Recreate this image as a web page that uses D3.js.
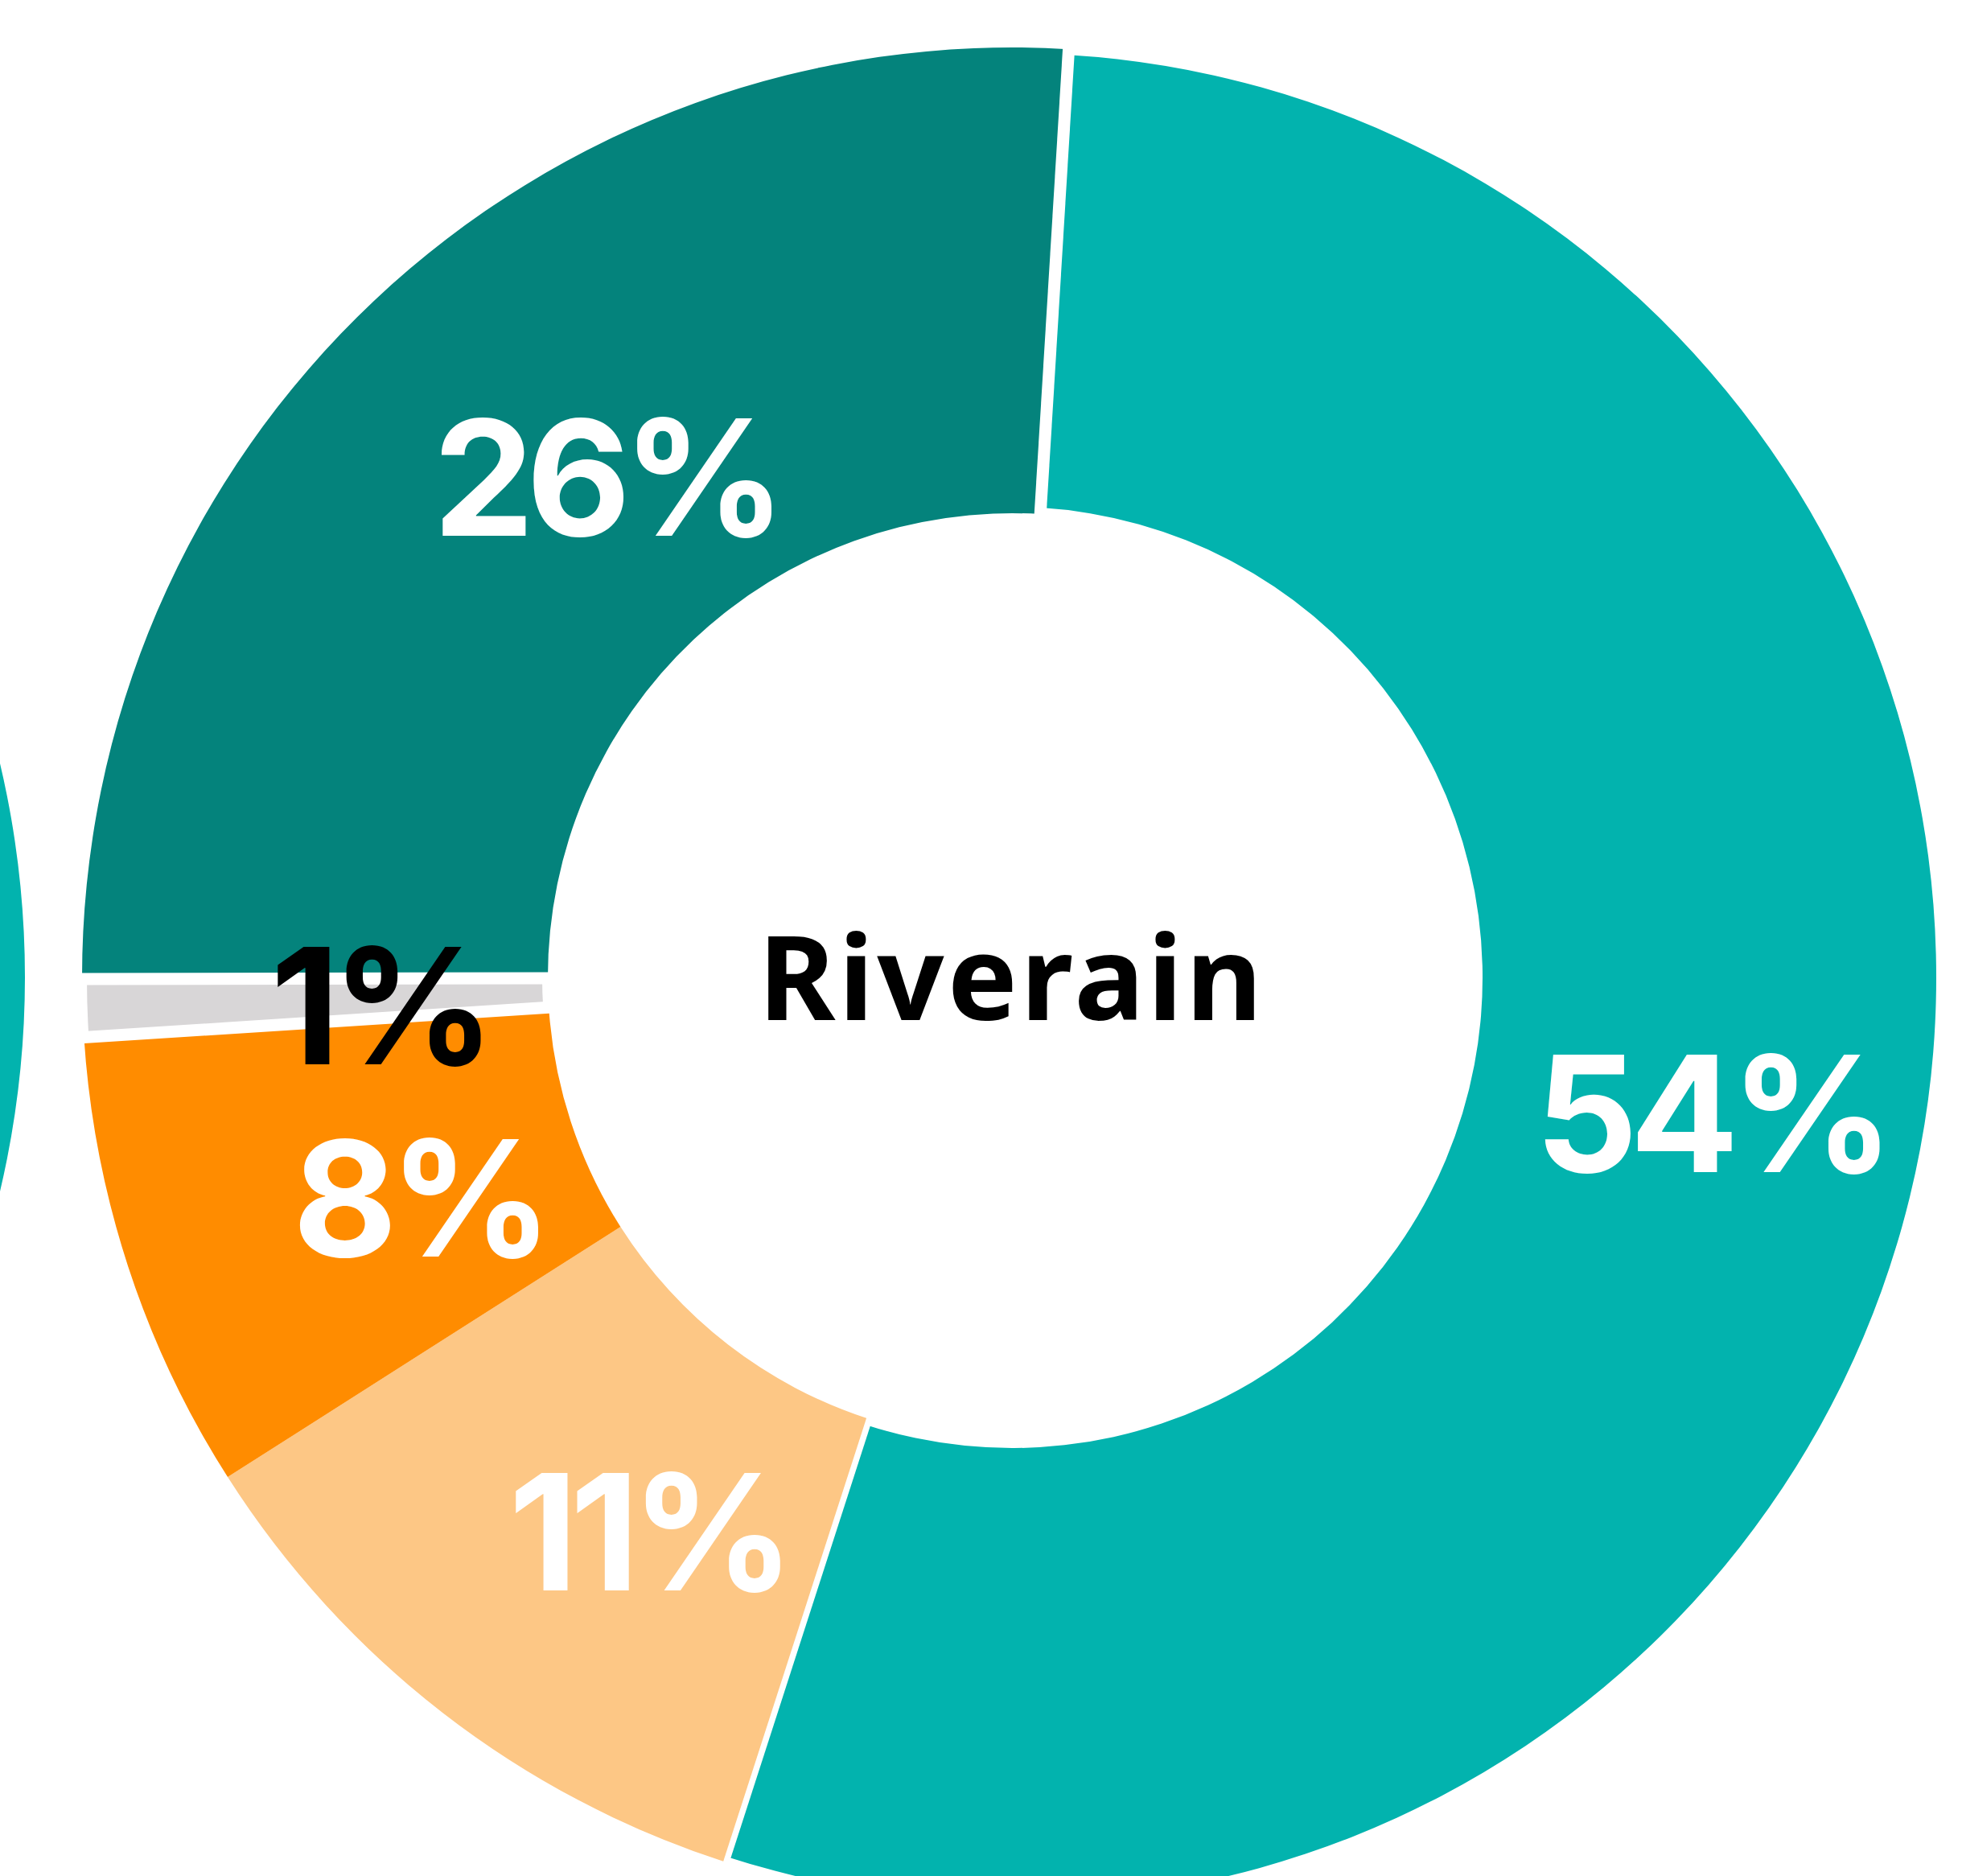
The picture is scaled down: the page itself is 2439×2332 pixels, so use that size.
<!DOCTYPE html>
<html lang="en">
<head>
    <meta charset="UTF-8">
    <title>Riverain</title>
    <script src="https://cdnjs.cloudflare.com/ajax/libs/d3/7.8.5/d3.min.js"></script>
    <style>
        body {
            margin: 0;
            background: white;
            overflow: hidden;
        }
        svg {
            display: block;
        }
        .pct {
            font-family: Inter, sans-serif;
            font-weight: 700;
            font-size: 200px;
            letter-spacing: -10px;
            text-anchor: middle;
        }
        .title {
            font-family: "Noto Sans", Tahoma, sans-serif;
            font-weight: 700;
            font-size: 146px;
            letter-spacing: 4px;
            text-anchor: middle;
        }
    </style>
</head>
<body>
    <svg id="chart"></svg>

    <script>
        // data, clockwise from the top
        const segments = ["s1", "s2", "s3", "s4", "s5"];
        const shares = [54, 11, 8, 1, 26];
        const segmentColors = ["#02b3ae", "#fdc785", "#ff8c00", "#d8d6d7", "#04837c"];
        const labelColors = ["#fff", "#fff", "#fff", "#000", "#fff"];
        const centerLabel = "Riverain";

        // look
        const width = 2439, height = 2332;
        const cx = 1258, cy = 1215;
        const outerR = 1156, innerR = 577;
        const startDeg = 3.5;
        // white gap after each slice (px), and slices drawn with a thinner ring
        const gapAfter = [7.5, 0, 15, 15, 15];
        const ringInset = [[8, 7], [0, 0], [0, 0], [7, 6], [0, 0]];
        // hand nudges so labels sit where the original put them
        const labelNudge = [[22, 9], [82, 4], [91, 6], [84, 7], [94, 10]];

        const svg = d3.select("#chart")
            .attr("width", width)
            .attr("height", height);

        svg.append("rect")
            .attr("width", width)
            .attr("height", height)
            .attr("fill", "white");

        // right edge of the neighbouring ring that is cut off on the left
        svg.append("path")
            .attr("transform", `translate(${31 - outerR},${cy})`)
            .attr("fill", segmentColors[0])
            .attr("d", d3.arc()({ innerRadius: innerR, outerRadius: outerR, startAngle: 0, endAngle: Math.PI }));

        const start = startDeg * Math.PI / 180;
        const pie = d3.pie()
            .sort(null)
            .value(d => d)
            .startAngle(start)
            .endAngle(start + 2 * Math.PI);

        const arcs = pie(shares);

        const g = svg.append("g")
            .attr("transform", `translate(${cx},${cy})`);

        const arc = d3.arc();

        g.selectAll(".slice")
            .data(arcs)
            .enter()
            .append("path")
            .attr("class", "slice")
            .attr("fill", (d, i) => segmentColors[i])
            .attr("d", (d, i) => arc({
                innerRadius: innerR + ringInset[i][0],
                outerRadius: outerR - ringInset[i][1],
                startAngle: d.startAngle,
                endAngle: d.endAngle
            }));

        // white separators at slice boundaries
        g.selectAll(".gap")
            .data(arcs.filter((d, i) => gapAfter[i] > 0))
            .enter()
            .append("line")
            .attr("class", "gap")
            .attr("stroke", "white")
            .attr("stroke-width", d => gapAfter[d.index])
            .attr("x1", d => Math.sin(d.endAngle) * (innerR - 4))
            .attr("y1", d => -Math.cos(d.endAngle) * (innerR - 4))
            .attr("x2", d => Math.sin(d.endAngle) * (outerR + 4))
            .attr("y2", d => -Math.cos(d.endAngle) * (outerR + 4));

        const labelArc = d3.arc().innerRadius(innerR).outerRadius(outerR);

        g.selectAll(".pct")
            .data(arcs)
            .enter()
            .append("text")
            .attr("class", "pct")
            .attr("fill", (d, i) => labelColors[i])
            .attr("x", (d, i) => labelArc.centroid(d)[0] + labelNudge[i][0] - 5)
            .attr("y", (d, i) => labelArc.centroid(d)[1] + labelNudge[i][1])
            .attr("dy", "0.36em")
            .text(d => d.data + "%");

        g.append("text")
            .attr("class", "title")
            .attr("x", 0)
            .attr("y", 53)
            .text(centerLabel);
    </script>
</body>
</html>
